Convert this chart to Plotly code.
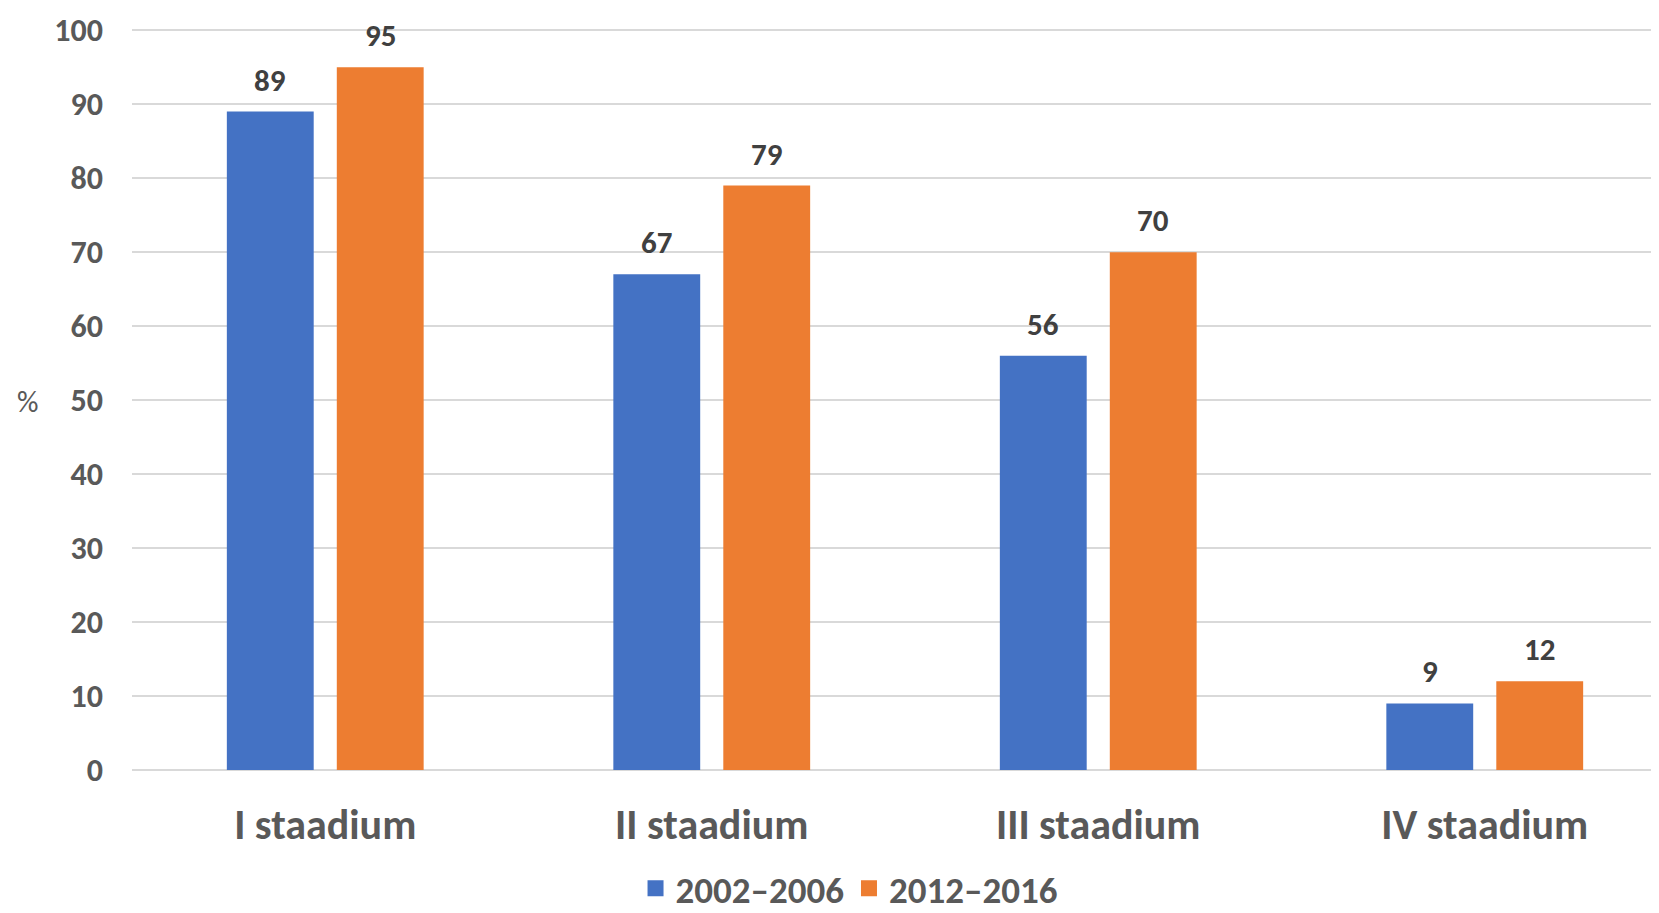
import plotly.graph_objects as go

categories = ["I staadium", "II staadium", "III staadium", "IV staadium"]
series_names = ["2002\u20132006", "2012\u20132016"]
values_2002_2006 = [89, 67, 56, 9]
values_2012_2016 = [95, 79, 70, 12]
y_ticks = [0, 10, 20, 30, 40, 50, 60, 70, 80, 90, 100]

colors = ["#4472C4", "#ED7D31"]
font_family = "Carlito, Lato, sans-serif"

fig = go.Figure()
for name, vals, col in zip(series_names, [values_2002_2006, values_2012_2016], colors):
    fig.add_trace(go.Bar(
        x=categories, y=vals, name=name, showlegend=False,
        marker=dict(color=col, line=dict(width=0)),
    ))
    # legend entry with a bigger square swatch
    fig.add_trace(go.Scatter(
        x=[None], y=[None], mode="markers", name=name,
        marker=dict(symbol="square", size=22, color=col),
    ))

# value labels above the bars (a bit higher than plotly's own outside text)
for vals, shift in zip([values_2002_2006, values_2012_2016], [-55, 55]):
    for cat, v in zip(categories, vals):
        fig.add_annotation(
            x=cat, y=v, xshift=shift, yshift=11, text=str(v),
            showarrow=False, xanchor="center", yanchor="bottom",
            font=dict(family=font_family, size=31, color="#404040", weight="bold"),
        )

fig.add_annotation(
    text="%", xref="paper", yref="paper", x=-0.0673, y=0.496,
    xanchor="center", yanchor="middle", showarrow=False,
    font=dict(size=30, color="#595959", family=font_family),
)

# page body has an 8px margin; the plot runs past the right edge of the window
fig.update_layout(
    width=1670, height=905,
    margin=dict(l=124, r=0, t=20, b=143, autoexpand=False),
    plot_bgcolor="white", paper_bgcolor="white",
    barmode="group", bargap=0.431, bargroupgap=0.21,
    font=dict(family=font_family, color="#595959"),
    legend=dict(
        orientation="h", x=0.4638, xanchor="center", y=-0.160, yanchor="middle",
        font=dict(size=37, color="#595959", weight="bold"),
        itemwidth=30, traceorder="normal",
    ),
)
fig.update_yaxes(
    range=[0, 100.3], tickvals=y_ticks, showgrid=True, gridcolor="#d9d9d9", gridwidth=2,
    zeroline=True, zerolinecolor="#d9d9d9", zerolinewidth=2,
    tickfont=dict(size=32, color="#595959", weight="bold"),
    ticklabelstandoff=28, showline=False, automargin=False,
)
fig.update_xaxes(
    tickfont=dict(size=42, color="#595959", weight="bold"),
    ticklabelstandoff=26, showline=False, showgrid=False, automargin=False,
)

fig.write_html("out.html")
